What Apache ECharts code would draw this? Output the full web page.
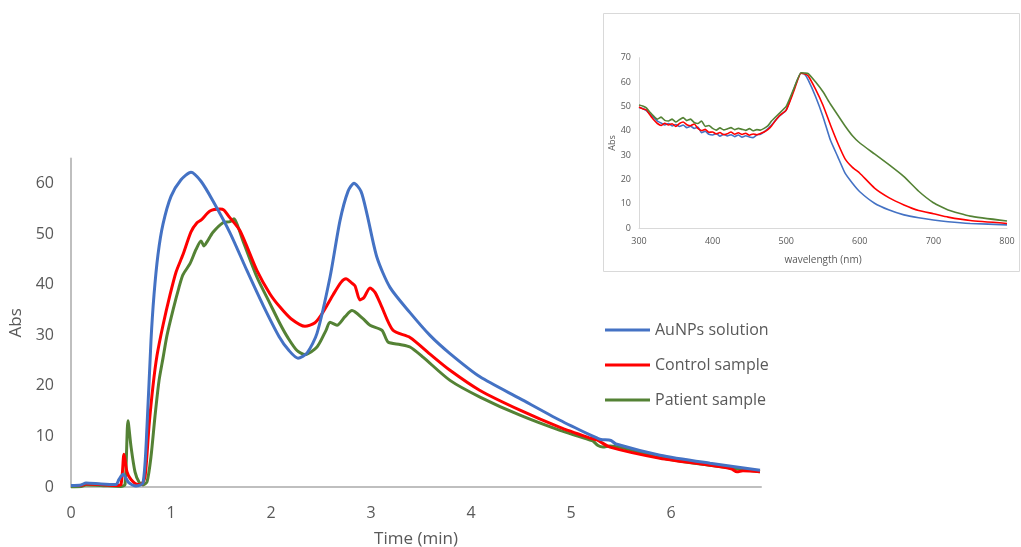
<!DOCTYPE html>
<html>
<head>
<meta charset="utf-8">
<title>AuNPs chromatogram</title>
<script src="https://cdn.jsdelivr.net/npm/echarts@6/dist/echarts.min.js"></script>
<style>
  html, body { margin: 0; padding: 0; background: #fff; }
  #chart { width: 1021px; height: 547px; }
</style>
</head>
<body>
<div id="chart"></div>
<script>
// main chart: Abs vs time (min)
var aunpsTime = [0, 0.1, 0.15, 0.3, 0.45, 0.48, 0.52, 0.58, 0.65, 0.72, 0.76, 0.8, 0.83, 0.87, 0.92, 1.0, 1.1, 1.2, 1.3, 1.42, 1.59, 1.76, 1.92, 2.08, 2.18, 2.27, 2.36, 2.46, 2.59, 2.69, 2.77, 2.83, 2.9, 2.96, 3.06, 3.19, 3.39, 3.59, 3.79, 4.09, 4.49, 4.89, 5.19, 5.26, 5.3, 5.4, 5.45, 5.89, 6.39, 6.89]
var aunpsAbs  = [0.3, 0.4, 0.8, 0.6, 0.5, 1.5, 2.5, 0.8, 0.2, 0.8, 12, 29, 38, 46, 52, 57.5, 60.8, 62.3, 60.5, 56.6, 50.3, 42.8, 36, 29.8, 27, 25.5, 26.5, 30.4, 41.5, 52.7, 58.5, 60.1, 58.5, 54, 45.4, 39.5, 34.5, 30, 26.4, 21.8, 17.5, 13.2, 10.3, 9.7, 9.4, 9.2, 8.5, 6.3, 4.7, 3.3]

var controlTime = [0, 0.1, 0.15, 0.3, 0.45, 0.5, 0.53, 0.56, 0.6, 0.67, 0.7, 0.74, 0.78, 0.82, 0.86, 0.92, 0.99, 1.05, 1.12, 1.2, 1.26, 1.3, 1.39, 1.49, 1.53, 1.58, 1.69, 1.86, 1.99, 2.09, 2.2, 2.34, 2.44, 2.52, 2.62, 2.7, 2.75, 2.8, 2.84, 2.89, 2.93, 2.99, 3.04, 3.1, 3.22, 3.39, 3.59, 3.79, 4.09, 4.49, 4.89, 5.19, 5.26, 5.39, 5.89, 6.39, 6.6, 6.66, 6.72, 6.89]
var controlAbs  = [0.3, 0.3, 0.6, 0.5, 0.3, 0.5, 6.5, 3, 1.5, 0.5, 0.5, 2, 12, 20, 26, 32, 38, 42.5, 46, 50.5, 52.3, 52.8, 54.6, 55, 54.8, 53.5, 50.7, 42.8, 38.2, 35.6, 33.3, 31.8, 32.5, 34.6, 38, 40.5, 41.2, 40.5, 39.8, 37, 37.5, 39.4, 38.5, 36, 31, 29.6, 26.3, 23.1, 19.1, 15.2, 11.8, 9.7, 9.3, 7.9, 5.7, 4.3, 3.6, 3.0, 3.2, 3.0]

var patientTime = [0, 0.1, 0.15, 0.3, 0.5, 0.54, 0.57, 0.6, 0.64, 0.68, 0.72, 0.76, 0.8, 0.84, 0.88, 0.92, 0.96, 1.02, 1.08, 1.12, 1.19, 1.25, 1.3, 1.33, 1.36, 1.42, 1.52, 1.59, 1.63, 1.67, 1.72, 1.86, 1.99, 2.09, 2.17, 2.26, 2.34, 2.46, 2.55, 2.59, 2.66, 2.74, 2.81, 2.92, 2.99, 3.11, 3.17, 3.29, 3.39, 3.52, 3.79, 4.09, 4.49, 4.89, 5.19, 5.22, 5.27, 5.32, 5.39, 5.89, 6.39, 6.89]
var patientAbs  = [0, 0.1, 0.4, 0.3, 0.1, 0.5, 13.1, 8, 3, 1, 0.4, 1, 6, 14, 21, 25.5, 30, 35, 39.5, 42, 44.2, 47, 48.7, 47.7, 48.5, 50.4, 52.3, 52.5, 53.1, 51.5, 48.7, 41.5, 36.3, 32.3, 29.5, 27, 26.2, 27.7, 31, 32.6, 32, 33.7, 34.9, 33.3, 32, 31, 28.7, 28.2, 27.7, 25.7, 21.1, 17.8, 14.2, 11.2, 9.3, 9.1, 8.2, 7.9, 8.1, 5.8, 4.3, 3.0]

// inset: UV-vis spectra (noisy below 480 nm)
var wavelength = [300, 305, 310, 315, 320, 325, 330, 335, 340, 345, 350, 355, 360, 365, 370, 375, 380, 385, 390, 395, 400, 405, 410, 415, 420, 425, 430, 435, 440, 445, 450, 455, 460, 465, 470, 475, 480, 490, 500, 510, 520, 525, 530, 540, 550, 560, 570, 580, 590, 600, 620, 640, 660, 680, 700, 720, 750, 800]
var aunpsSpec   = [49.6, 49.2, 48.3, 46.8, 45.5, 44.0, 43.2, 42.4, 43.0, 42.0, 42.6, 41.8, 42.4, 41.3, 41.9, 41.0, 41.5, 39.2, 39.8, 38.6, 38.3, 38.9, 37.8, 38.6, 37.9, 38.4, 37.6, 38.3, 37.4, 38.0, 37.5, 37.2, 38.3, 38.6, 39.6, 40.8, 42.4, 45.8, 48.5, 56.7, 63.6, 63.2, 60.8, 54, 45.8, 36.2, 29.4, 22.6, 18.5, 15, 10.3, 7.5, 5.5, 4.3, 3.4, 2.7, 2, 1.4]
var controlSpec = [49.8, 49.0, 48.6, 46.5, 44.5, 43.0, 42.2, 43.1, 42.4, 42.9, 41.8, 43.0, 43.6, 42.5, 42.1, 42.8, 41.0, 40.1, 40.6, 39.4, 39.5, 38.7, 39.3, 38.4, 38.8, 39.5, 38.6, 39.2, 38.5, 39.0, 38.2, 38.7, 38.4, 38.9, 39.5, 40.5, 42.0, 46, 48.5, 56, 63.6, 63.4, 62.5, 57, 50.5, 42.5, 35, 28.5, 25, 22.6, 16.5, 12.5, 9.6, 7.3, 6.0, 4.6, 3.2, 2]
var patientSpec = [50.6, 50.2, 49.4, 47.6, 46.0, 44.8, 45.6, 44.3, 44.0, 44.8, 43.6, 44.6, 45.4, 44.2, 44.8, 43.4, 43.0, 44.0, 41.8, 42.2, 41.0, 40.3, 41.2, 40.4, 40.8, 41.3, 40.5, 41.0, 40.6, 40.2, 40.9, 40.0, 40.5, 40.3, 41.0, 42.0, 44.0, 47, 50, 57, 63.8, 63.7, 63.5, 60, 56, 51, 46.5, 42, 38, 35, 30.5, 26, 21.2, 15.2, 10.5, 7.5, 5, 3]

var seriesNames = ['AuNPs solution', 'Control sample', 'Patient sample']
var seriesColors = ['#4472C4', '#FF0000', '#548235']

function pairs(xs, ys) {
    return xs.map(function (x, i) { return [x, ys[i]] })
}

var labelColor = '#595959'
var axisColor = '#BFBFBF'

var mainData = [pairs(aunpsTime, aunpsAbs), pairs(controlTime, controlAbs), pairs(patientTime, patientAbs)]
var insetData = [pairs(wavelength, aunpsSpec), pairs(wavelength, controlSpec), pairs(wavelength, patientSpec)]

var series = []
mainData.forEach(function (d, i) {
    series.push({
        name: seriesNames[i], type: 'line', xAxisIndex: 0, yAxisIndex: 0,
        data: d, symbol: 'none', smooth: 0.25,
        lineStyle: {color: seriesColors[i], width: 3}, itemStyle: {color: seriesColors[i]},
        z: 10 - i
    })
})
insetData.forEach(function (d, i) {
    series.push({
        name: seriesNames[i], type: 'line', xAxisIndex: 1, yAxisIndex: 1,
        data: d, symbol: 'none', smooth: 0.15,
        lineStyle: {color: seriesColors[i], width: 1.6}, itemStyle: {color: seriesColors[i]},
        z: 3 + i
    })
})

var option = {
    animation: false,
    textStyle: {fontFamily: 'Open Sans'},
    legend: {
        orient: 'vertical', left: 600, top: 317,
        itemWidth: 45, itemHeight: 14, itemGap: 19,
        icon: 'path://M0,6 L45,6 L45,9 L0,9 Z',
        data: seriesNames,
        textStyle: {color: labelColor, fontSize: 16, fontFamily: 'Open Sans', lineHeight: 16}
    },
    grid: [
        {left: 71, right: 260, top: 158.5, bottom: 60, outerBoundsMode: 'none'},
        {left: 639, right: 14, top: 57.7, bottom: 318.7, outerBoundsMode: 'none'}
    ],
    xAxis: [
        {
            type: 'value', gridIndex: 0, min: 0, max: 6.9, interval: 1,
            name: 'Time (min)', nameLocation: 'middle', nameGap: 44,
            nameTextStyle: {color: labelColor, fontSize: 17},
            axisLine: {lineStyle: {color: axisColor, width: 2}},
            axisTick: {show: false}, splitLine: {show: false},
            axisLabel: {color: labelColor, fontSize: 16, margin: 18,
                formatter: function (v) { return v % 1 === 0 ? v : '' }}
        },
        {
            type: 'value', gridIndex: 1, min: 300, max: 800, interval: 100,
            name: 'wavelength (nm)', nameLocation: 'middle', nameGap: 27,
            nameTextStyle: {color: labelColor, fontSize: 10},
            axisLine: {lineStyle: {color: '#D9D9D9', width: 1}},
            axisTick: {show: false}, splitLine: {show: false},
            axisLabel: {color: labelColor, fontSize: 9, margin: 9}
        }
    ],
    yAxis: [
        {
            type: 'value', gridIndex: 0, min: 0, max: 65, interval: 10,
            name: 'Abs', nameLocation: 'middle', nameGap: 41, nameRotate: 90,
            nameTextStyle: {color: labelColor, fontSize: 17},
            axisLine: {show: true, lineStyle: {color: axisColor, width: 2}},
            axisTick: {show: false}, splitLine: {show: false},
            axisLabel: {color: labelColor, fontSize: 16, margin: 17,
                formatter: function (v) { return v % 10 === 0 ? v : '' }}
        },
        {
            type: 'value', gridIndex: 1, min: 0, max: 70, interval: 10,
            name: 'Abs', nameLocation: 'middle', nameGap: 21, nameRotate: 90,
            nameTextStyle: {color: labelColor, fontSize: 9},
            axisLine: {show: true, lineStyle: {color: '#D9D9D9', width: 1}},
            axisTick: {show: false}, splitLine: {show: false},
            axisLabel: {color: labelColor, fontSize: 9, margin: 8}
        }
    ],
    graphic: [
        // inset frame
        {type: 'rect', left: 603, top: 13, z: 0,
            shape: {width: 416, height: 258},
            style: {fill: 'transparent', stroke: '#D9D9D9', lineWidth: 1}}
    ],
    series: series
}

var chart = echarts.init(document.getElementById('chart'))
chart.setOption(option)
</script>
</body>
</html>
